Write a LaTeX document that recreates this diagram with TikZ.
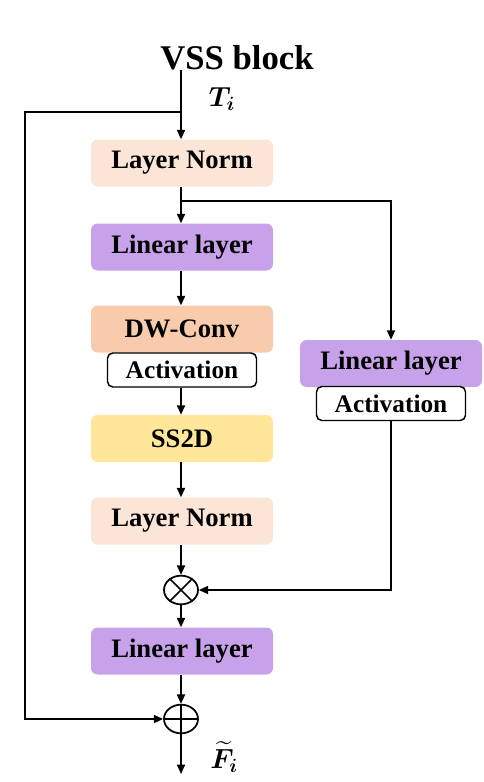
\documentclass[tikz,border=0pt]{standalone}
\usepackage{fontspec}
\setmainfont{Liberation Serif}
\usepackage{amsmath}
\usepackage{bm}
\usetikzlibrary{arrows.meta, shapes.geometric, positioning}
\definecolor{NormF}  {HTML}{FBE5D6}
\definecolor{LinF}   {HTML}{C7A2EA}
\definecolor{ConvF}  {HTML}{F8CBAD}
\definecolor{ScanF}  {HTML}{FFE699}
\tikzset{
  blk/.style={
    rectangle, rounded corners=5pt,
    draw=none, fill=#1, text=black,
    font=\fontsize{20}{23}\selectfont\bfseries, align=center,
    inner sep=2pt, minimum width=136.5pt, minimum height=35.25pt,
  },
  actbox/.style={
    rectangle, rounded corners=4pt,
    draw=black, fill=white, line width=1.1pt,
    font=\fontsize{19}{22}\selectfont\bfseries, align=center,
    inner sep=1pt, minimum width=111.75pt, minimum height=25.5pt,
  },
  op/.style={
    ellipse, draw=black, line width=1.3pt, fill=white,
    minimum width=25.5pt, minimum height=21.5pt, inner sep=0pt,
  },
  arr/.style={
    -{Triangle[length=7pt,width=6pt]},
    line width=1.3pt, color=black,
  },
  ln/.style={line width=1.3pt, color=black},
}

\begin{document}
\begin{tikzpicture}[x=0.75pt,y=-0.75pt]
    \useasboundingbox (0,0) rectangle (483,782);

    \node[font=\fontsize{26}{30}\selectfont\bfseries] (title) at (237,58) {VSS block};
    \node[font=\fontsize{21}{24}\selectfont] (tin) at (222,99) {$\bm{T}_{\bm{i}}$};

    % main column
    \node[blk=NormF] (ln1)  at (182,163)   {Layer Norm};
    \node[blk=LinF]  (ll1)  at (182,247)   {Linear layer};
    \node[blk=ConvF] (dw)   at (182,329)   {DW-Conv};
    \node[actbox]    (act1) at (182,370)   {Activation};
    \node[blk=ScanF] (ss)   at (182,438.5) {SS2D};
    \node[blk=NormF] (ln2)  at (182,521)   {Layer Norm};
    \node[op]        (mul)  at (181,590)   {};
    \node[blk=LinF]  (ll3)  at (182,651)   {Linear layer};
    \node[op]        (add)  at (181,719)   {};
    \node[font=\fontsize{21}{24}\selectfont] (fout) at (224,757) {$\widetilde{\bm{F}}_{\bm{i}}$};

    % gate branch
    \node[blk=LinF]  (ll2)  at (391,363.5) {Linear layer};
    \node[actbox]    (act2) at (391,403.5) {Activation};

    \draw[ln] (mul.45)--(mul.225) (mul.135)--(mul.315);
    \draw[ln] (add.north)--(add.south) (add.east)--(add.west);

    \coordinate (top)  at (181,70);
    \coordinate (res)  at (181,112);
    \coordinate (gate) at (181,201);
    \coordinate (out)  at (181,774);

    \draw[arr] (top)--(ln1.north-|top);
    \draw[arr] (ln1.south-|top)--(ll1.north-|top);
    \draw[arr] (ll1.south-|top)--(dw.north-|top);
    \draw[arr] (act1.south-|top)--(ss.north-|top);
    \draw[arr] (ss.south-|top)--(ln2.north-|top);
    \draw[arr] (ln2.south-|top)--(mul.north);
    \draw[arr] (mul.south)--(ll3.north-|top);
    \draw[arr] (ll3.south-|top)--(add.north);
    \draw[arr] (add.south)--(out);

    \draw[arr] (gate)-|(ll2.north);
    \draw[arr] (act2.south)|-(mul.east);
    \draw[arr] (res)-|(25,650)|-(add.west);

  \end{tikzpicture}
\end{document}
